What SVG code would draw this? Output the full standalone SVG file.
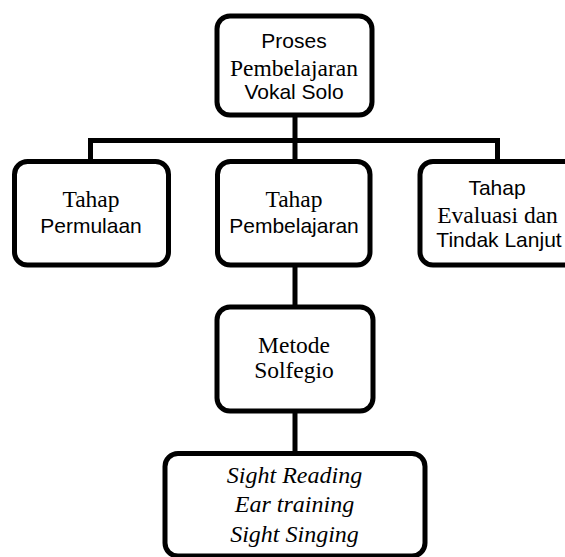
<svg xmlns="http://www.w3.org/2000/svg" width="565" height="557" viewBox="0 0 565 557">
<style>
.box{fill:#fff;stroke:#000;stroke-width:5}
.con{fill:none;stroke:#000;stroke-width:5}
.sans{font-family:"Liberation Sans",Arial,sans-serif;font-size:21px;fill:#000;text-anchor:middle}
.serif{font-family:"Liberation Serif","Times New Roman",serif;font-size:23.5px;fill:#000;text-anchor:middle}
.it{font-family:"Liberation Serif","Times New Roman",serif;font-size:24px;font-style:italic;fill:#000;text-anchor:middle}
</style>
<rect width="565" height="557" fill="#fff"/>
<g id="connectors">
<path class="con" d="M90.5 161.5V140.5H497.5V161.5"/>
<path class="con" d="M295 115V161.5"/>
<path class="con" d="M295 265V307"/>
<path class="con" d="M295 411V453.5"/>
</g>
<g id="n-proses">
<rect class="box" x="217" y="16" width="155" height="99" rx="13"/>
<text class="sans" x="294" y="48">Proses</text>
<text class="serif" x="294" y="76">Pembelajaran</text>
<text class="sans" x="294" y="99">Vokal Solo</text>
</g>
<g id="n-permulaan">
<rect class="box" x="14.5" y="161.5" width="154" height="103.5" rx="13"/>
<text class="serif" x="91" y="207">Tahap</text>
<text class="sans" x="91" y="233">Permulaan</text>
</g>
<g id="n-pembelajaran">
<rect class="box" x="217.5" y="161.5" width="152.5" height="103.5" rx="13"/>
<text class="serif" x="294" y="207">Tahap</text>
<text class="sans" x="294" y="233">Pembelajaran</text>
</g>
<g id="n-evaluasi">
<rect class="box" x="420" y="161.5" width="160" height="103.5" rx="13"/>
<text class="sans" x="497" y="195">Tahap</text>
<text class="serif" x="497.5" y="223">Evaluasi dan</text>
<text class="sans" x="499" y="247">Tindak Lanjut</text>
</g>
<g id="n-solfegio">
<rect class="box" x="217" y="307" width="156" height="104" rx="13"/>
<text class="serif" x="294" y="353" font-size="22.5">Metode</text>
<text class="serif" x="294" y="378" font-size="22.5">Solfegio</text>
</g>
<g id="n-teknik">
<rect class="box" x="165" y="453.5" width="260" height="102.5" rx="13"/>
<text class="it" x="294.5" y="483">Sight Reading</text>
<text class="it" x="294.5" y="512">Ear training</text>
<text class="it" x="294.5" y="542">Sight Singing</text>
</g>
</svg>
